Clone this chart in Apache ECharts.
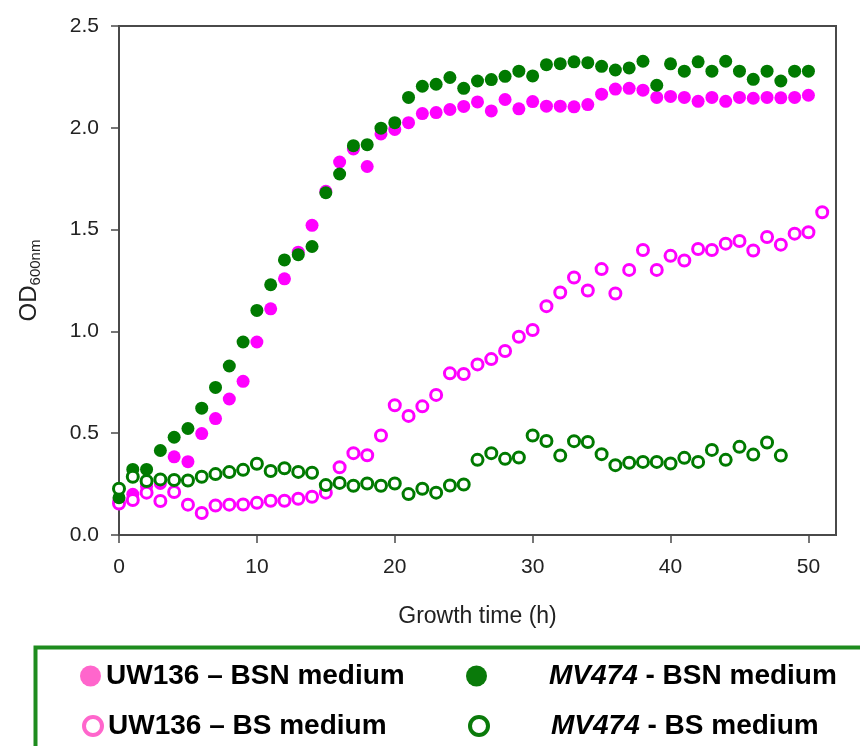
<!DOCTYPE html>
<html><head><meta charset="utf-8">
<script src="https://cdn.jsdelivr.net/npm/echarts@6/dist/echarts.min.js"></script>
<style>html,body{margin:0;padding:0;background:#fff}#c{width:860px;height:746px}</style>
</head><body><div id="c"></div>
<script>
const hours = Array.from({length: 52}, (_, i) => i); // 0..51 h
const uw136BSN = [0.17,0.20,0.24,0.253,0.384,0.36,0.498,0.572,0.668,0.755,0.948,1.111,1.258,1.389,1.521,1.688,1.832,1.896,1.81,1.97,1.992,2.025,2.07,2.075,2.09,2.105,2.127,2.083,2.139,2.093,2.129,2.106,2.106,2.103,2.114,2.165,2.19,2.194,2.185,2.149,2.154,2.149,2.13,2.149,2.13,2.149,2.145,2.149,2.147,2.149,2.16];
const uw136BS = [0.155,0.172,0.208,0.167,0.211,0.149,0.108,0.145,0.149,0.15,0.158,0.168,0.168,0.178,0.188,0.208,0.333,0.402,0.392,0.489,0.637,0.585,0.632,0.688,0.794,0.791,0.838,0.864,0.904,0.974,1.007,1.124,1.191,1.265,1.201,1.306,1.186,1.302,1.40,1.302,1.371,1.348,1.405,1.40,1.431,1.444,1.397,1.464,1.426,1.48,1.487,1.585];
const mv474BSN = [0.183,0.322,0.322,0.415,0.48,0.523,0.623,0.725,0.83,0.948,1.103,1.229,1.351,1.377,1.417,1.681,1.773,1.912,1.917,1.998,2.025,2.149,2.204,2.214,2.247,2.194,2.23,2.237,2.253,2.278,2.255,2.31,2.315,2.324,2.32,2.302,2.284,2.294,2.327,2.209,2.314,2.278,2.324,2.278,2.327,2.278,2.238,2.278,2.23,2.278,2.278];
const mv474BS = [0.227,0.286,0.265,0.273,0.27,0.268,0.286,0.299,0.309,0.32,0.35,0.314,0.328,0.31,0.306,0.245,0.256,0.242,0.253,0.242,0.253,0.201,0.227,0.208,0.243,0.248,0.369,0.402,0.374,0.381,0.489,0.462,0.39,0.461,0.457,0.397,0.343,0.355,0.359,0.359,0.351,0.379,0.359,0.418,0.369,0.433,0.395,0.454,0.39];
const xTicks = [0, 10, 20, 30, 40, 50];
const seriesNames = ['UW136 – BSN medium', 'UW136 – BS medium', 'MV474 - BSN medium', 'MV474 - BS medium'];

const pair = arr => arr.map((v, i) => [hours[i], v]);
const chart = echarts.init(document.getElementById('c'));
const axisCol = '#4a4a4a';
const legendFont = '"Liberation Sans", Arial, sans-serif';
const legText = {fontFamily: legendFont, fontSize: 28, fontWeight: 'bold', color: '#000', lineHeight: 30};
const pinkLeg = '#ff66cc', greenLeg = '#0a7a0a';
function leg(name, left, top, filled, col, mv) {
  const sz = filled ? 21 : 18;
  const o = {left: filled ? left : left + 2, top: top, padding: 0, itemWidth: sz, itemHeight: sz, selectedMode: false,
    textStyle: Object.assign({}, legText),
    data: [{name: name, icon: 'circle',
      itemStyle: filled ? {color: col, borderWidth: 0} : {color: '#fff', borderColor: col, borderWidth: 4}}]};
  if (mv) {
    o.formatter = n => '{s|}{i|MV474}' + n.slice(5);
    o.textStyle.rich = {s: {width: filled ? 57 : 58}, i: Object.assign({}, legText, {fontStyle: 'italic'})};
  } else if (!filled) {
    o.formatter = n => '{s|}' + n;
    o.textStyle.rich = {s: {width: 1}};
  }
  return o;
}
chart.setOption({
  animation: false,
  backgroundColor: '#fff',
  grid: {left: 119, right: 24, top: 26, bottom: 211, show: true, borderColor: axisCol, borderWidth: 2},
  xAxis: {
    type: 'value', min: 0, max: 52, interval: 10,
    name: 'Growth time (h)', nameLocation: 'middle', nameGap: 70,
    nameTextStyle: {fontFamily: 'Liberation Sans', fontSize: 23, color: '#222'},
    axisLine: {show: true, lineStyle: {color: axisCol, width: 2}},
    axisTick: {show: true, length: 8, lineStyle: {color: axisCol, width: 1.5}, customValues: xTicks},
    axisLabel: {fontFamily: 'Liberation Sans', fontSize: 21, color: '#222', margin: 22, customValues: xTicks},
    splitLine: {show: false}
  },
  yAxis: {
    type: 'value', min: 0, max: 2.5, interval: 0.5,
    name: '{a|OD}{b|600nm}', nameLocation: 'middle', nameGap: 76, nameRotate: 90,
    nameTextStyle: {rich: {
      a: {fontFamily: 'Liberation Sans', fontSize: 24, color: '#222', lineHeight: 28},
      b: {fontFamily: 'Liberation Sans', fontSize: 15, color: '#222', verticalAlign: 'bottom', lineHeight: 18, padding: [12, 0, 0, 0]}
    }},
    axisLine: {show: true, lineStyle: {color: axisCol, width: 2}},
    axisTick: {show: true, length: 8, lineStyle: {color: axisCol, width: 1.5}},
    axisLabel: {fontFamily: 'Liberation Sans', fontSize: 21, color: '#222', margin: 20, formatter: v => v.toFixed(1)},
    splitLine: {show: false}
  },
  legend: [
    leg(seriesNames[0], 80, 661, true, pinkLeg, false),
    leg(seriesNames[1], 80, 711, false, pinkLeg, false),
    leg(seriesNames[2], 466, 661, true, greenLeg, true),
    leg(seriesNames[3], 466, 711, false, greenLeg, true)
  ],
  graphic: [{type: 'rect', left: 33, top: 645, shape: {width: 900, height: 200},
    style: {fill: 'none', stroke: '#1e8c1e', lineWidth: 4}, silent: true}],
  series: [
    {name: seriesNames[0], type: 'scatter', symbol: 'circle', symbolSize: 13, z: 2,
     itemStyle: {color: '#ff00ff', opacity: 1}, data: pair(uw136BSN)},
    {name: seriesNames[1], type: 'scatter', symbol: 'circle', symbolSize: 11, z: 2,
     itemStyle: {color: '#fff', borderColor: '#ff00ff', borderWidth: 3, opacity: 1}, data: pair(uw136BS)},
    {name: seriesNames[2], type: 'scatter', symbol: 'circle', symbolSize: 13, z: 3,
     itemStyle: {color: '#007a00', opacity: 1}, data: pair(mv474BSN)},
    {name: seriesNames[3], type: 'scatter', symbol: 'circle', symbolSize: 11, z: 4,
     itemStyle: {color: '#fff', borderColor: '#007a00', borderWidth: 3, opacity: 1}, data: pair(mv474BS)}
  ]
});
</script></body></html>
